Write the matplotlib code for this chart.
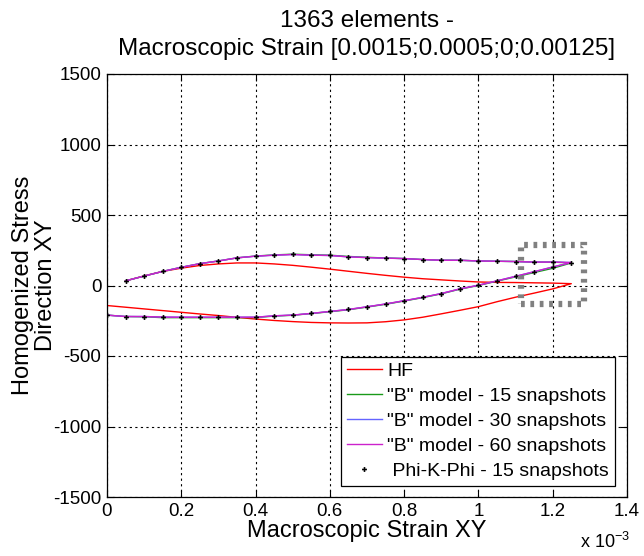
import matplotlib
matplotlib.use("Agg")
import matplotlib.pyplot as plt
from matplotlib.patches import Rectangle

plt.rcParams['font.family'] = ['Liberation Sans', 'DejaVu Sans']
plt.rcParams['mathtext.fontset'] = 'custom'
plt.rcParams['mathtext.rm'] = 'Liberation Sans'
plt.rcParams['axes.unicode_minus'] = False

# ---------------- data (strain in units of 1e-3) ----------------
strain_load = [0.0, 0.05, 0.1, 0.15, 0.2, 0.25, 0.3, 0.35, 0.4, 0.45, 0.5, 0.55, 0.6,
               0.65, 0.7, 0.75, 0.8, 0.85, 0.9, 0.95, 1.0, 1.05, 1.1, 1.15, 1.2, 1.25]
strain_unload = [1.25, 1.2, 1.15, 1.1, 1.05, 1.0, 0.95, 0.9, 0.85, 0.8, 0.75, 0.7, 0.65,
                 0.6, 0.55, 0.5, 0.45, 0.4, 0.35, 0.3, 0.25, 0.2, 0.15, 0.1, 0.05]

hf_load = [-142, -154, -166, -178, -190, -202, -213, -226, -238, -248, -256, -262, -265,
           -266, -265, -257, -244, -225, -201, -176, -150, -115, -83, -54, -24, 13]
hf_unload = [13, 17, 19, 21, 22, 25, 32, 40, 48, 59, 72, 86, 101,
             116, 130, 143, 153, 160, 160, 153, 142, 123, 100, 68, 33]

b15_load = [-210, -220, -222, -228, -228, -228, -228, -228, -227, -217, -211, -199, -186,
            -172, -153, -133, -110, -86, -59, -26, 0, 31, 61, 92, 122, 160]
b15_unload = [160, 166, 166, 170, 172, 174, 179, 179, 184, 191, 195, 200, 206,
              215, 218, 222, 217, 209, 196, 174, 155, 129, 100, 67, 33]

b30_load = [-210, -220, -220, -224, -225, -225, -225, -225, -225, -215, -210, -198, -184,
            -170, -151, -131, -108, -84, -57, -24, 2, 33, 65, 98, 131, 163]
b30_unload = [163, 166, 166, 170, 172, 174, 179, 179, 184, 191, 194, 198, 203,
              213, 215, 220, 215, 208, 196, 174, 155, 129, 100, 67, 33]

b60_load = [-210, -220, -220, -224, -225, -225, -225, -225, -225, -215, -210, -198, -184,
            -170, -151, -131, -108, -84, -57, -24, 2, 33, 65, 98, 131, 163]
b60_unload = [163, 166, 166, 170, 172, 174, 179, 179, 184, 191, 194, 198, 203,
              213, 215, 220, 215, 208, 196, 174, 155, 129, 100, 67, 33]

pkp_load = [-210, -220, -220, -225, -225, -225, -225, -225, -225, -215, -210, -198, -184,
            -170, -151, -131, -108, -84, -57, -24, 2, 33, 65, 98, 131, 163]
pkp_unload = [163, 166, 166, 170, 172, 174, 179, 179, 184, 191, 194, 198, 203,
              213, 215, 220, 215, 208, 196, 174, 155, 129, 100, 67, 33]

x_ticks = [0, 0.2, 0.4, 0.6, 0.8, 1.0, 1.2, 1.4]
x_ticklabels = ['0', '0.2', '0.4', '0.6', '0.8', '1', '1.2', '1.4']
y_ticks = [-1500, -1000, -500, 0, 500, 1000, 1500]

labels = ['HF', '"B" model - 15 snapshots', '"B" model - 30 snapshots',
          '"B" model - 60 snapshots', ' Phi-K-Phi - 15 snapshots']

# ---------------- figure ----------------
fig = plt.figure(figsize=(6.44, 5.56), dpi=100)
ax = fig.add_axes([107/644, 1 - 497/556, 520/644, 423/556])

sx = strain_load + strain_unload[1:]
ax.plot(strain_load + strain_unload, hf_load + hf_unload, color='#ff0000', lw=1.0, label=labels[0])
ax.plot(sx, b15_load + b15_unload[1:], color='#1a9a1a', lw=1.0, label=labels[1])
ax.plot(sx, b30_load + b30_unload[1:], color='#6464ff', lw=1.0, label=labels[2])
ax.plot(sx, b60_load + b60_unload[1:], color='#cc22cc', lw=1.0, label=labels[3])
ax.plot(sx, pkp_load + pkp_unload[1:], linestyle='none', marker='P', markersize=3.5,
        color='black', markeredgewidth=0, label=labels[4])

# highlight box (annotation)
ax.add_patch(Rectangle((1.114, -130), 0.17, 417, fill=False, edgecolor='#808080',
                       linestyle=(0, (0.6, 0.9)), linewidth=4.5, zorder=5))

ax.set_xlim(0, 1.4)
ax.set_ylim(-1500, 1500)
ax.set_xticks(x_ticks)
ax.set_xticklabels(x_ticklabels)
ax.set_yticks(y_ticks)
ax.tick_params(direction='in', length=5, width=0.8, labelsize=13.5, top=True, right=True,
               pad=4)
ax.grid(True, color='black', linestyle=(0, (2, 3)), linewidth=0.8)
for s in ax.spines.values():
    s.set_linewidth(0.9)

ax.set_xlabel('Macroscopic Strain XY', fontsize=17, labelpad=0)
ax.set_ylabel('Homogenized Stress\nDirection XY', fontsize=17, linespacing=1.05)
ax.yaxis.set_label_coords(-0.096, 0.5)
ax.set_title('1363 elements -\nMacroscopic Strain [0.0015;0.0005;0;0.00125]', fontsize=17.5,
             linespacing=1.3, pad=14)

fig.text(580/644, 1 - 548/556, r'x 10$^{-3}$', fontsize=13, va='baseline', ha='left')

leg = ax.legend(loc='lower right', bbox_to_anchor=(0.977, 0.026), fontsize=14,
                frameon=True, fancybox=False, edgecolor='black', framealpha=1,
                borderaxespad=0, labelspacing=0.38, handlelength=1.8, handletextpad=0.3,
                borderpad=0.3, markerscale=1.0)
leg.get_frame().set_linewidth(0.9)

fig.savefig('out.png', dpi=100)
